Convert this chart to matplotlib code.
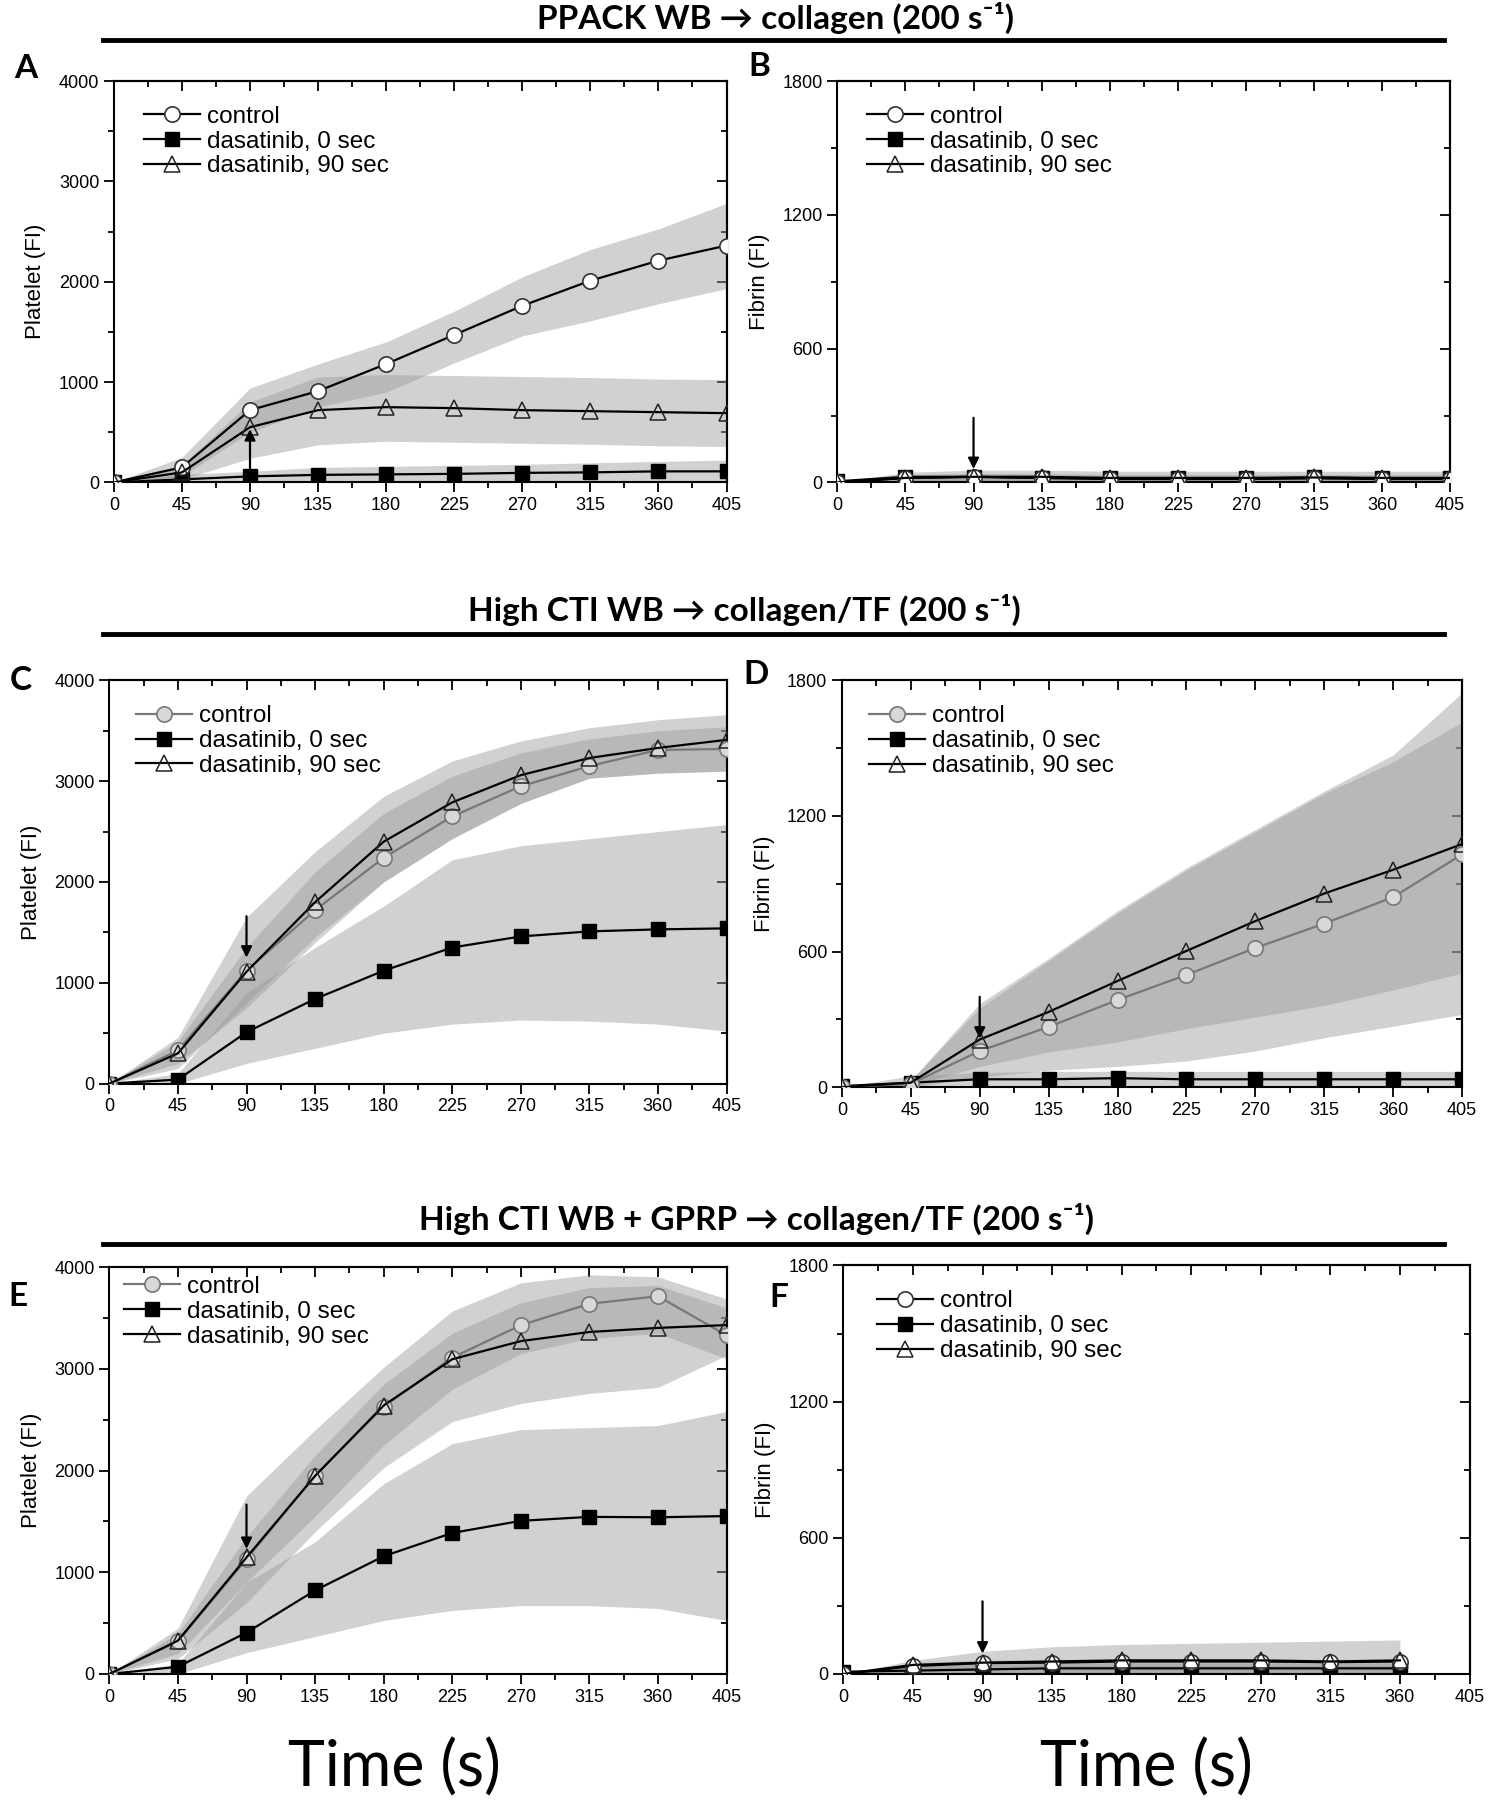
import numpy as np
import matplotlib.pyplot as plt
from matplotlib.ticker import MultipleLocator

plt.rcParams['font.family'] = ['Liberation Sans', 'DejaVu Sans']

# time points (s)
t = [0, 45, 90, 135, 180, 225, 270, 315, 360, 405]
t_f = t[:9]

# Panel A - platelet, PPACK WB
A_ctrl = [0, 150, 720, 910, 1180, 1470, 1760, 2010, 2210, 2360]
A_ctrl_hi = [0, 250, 940, 1180, 1400, 1706, 2048, 2321, 2526, 2780]
A_ctrl_lo = [0, 60, 500, 750, 900, 1190, 1460, 1610, 1780, 1930]
A_d0 = [0, 30, 60, 75, 80, 85, 95, 100, 110, 110]
A_d0_hi = [0, 80, 110, 150, 160, 170, 180, 195, 210, 222]
A_d0_lo = [0, 0, 0, 0, 0, 0, 0, 0, 0, 0]
A_d90 = [0, 100, 550, 720, 750, 740, 720, 710, 700, 690]
A_d90_hi = [0, 170, 800, 1050, 1075, 1065, 1055, 1045, 1030, 1024]
A_d90_lo = [0, 30, 240, 375, 410, 400, 390, 380, 365, 358]

# Panel B - fibrin, PPACK WB
B_ctrl = [0, 20, 25, 20, 15, 15, 15, 18, 15, 15]
B_ctrl_hi = [0, 45, 55, 55, 50, 50, 50, 50, 50, 50]
B_ctrl_lo = [0, 0, 0, 0, 0, 0, 0, 0, 0, 0]
B_d0 = [5, 25, 25, 20, 18, 18, 18, 22, 18, 18]
B_d0_hi = [0, 35, 40, 40, 35, 35, 35, 35, 35, 35]
B_d0_lo = [0, 0, 0, 0, 0, 0, 0, 0, 0, 0]
B_d90 = [0, 20, 25, 25, 20, 20, 20, 22, 20, 20]
B_d90_hi = [0, 30, 35, 35, 30, 30, 30, 30, 30, 30]
B_d90_lo = [0, 0, 0, 0, 0, 0, 0, 0, 0, 0]

# Panel C - platelet, high CTI WB
C_ctrl = [0, 330, 1120, 1720, 2240, 2650, 2950, 3150, 3310, 3320]
C_ctrl_hi = [0, 420, 1350, 2100, 2680, 3050, 3280, 3420, 3500, 3540]
C_ctrl_lo = [0, 200, 750, 1400, 2000, 2430, 2780, 3030, 3080, 3100]
C_d0 = [0, 40, 510, 840, 1120, 1350, 1460, 1510, 1530, 1540]
C_d0_hi = [0, 100, 900, 1350, 1760, 2220, 2360, 2430, 2500, 2570]
C_d0_lo = [0, 0, 200, 350, 500, 590, 630, 620, 590, 520]
C_d90 = [0, 300, 1110, 1800, 2400, 2790, 3060, 3230, 3330, 3410]
C_d90_hi = [0, 460, 1650, 2300, 2850, 3200, 3400, 3530, 3610, 3660]
C_d90_lo = [0, 150, 800, 1450, 2000, 2430, 2780, 3030, 3080, 3100]

# Panel D - fibrin, high CTI WB
D_ctrl = [0, 15, 160, 267, 386, 497, 616, 724, 841, 1030]
D_ctrl_hi = [0, 30, 370, 570, 780, 970, 1140, 1310, 1470, 1745]
D_ctrl_lo = [0, 0, 45, 75, 92, 116, 160, 219, 270, 322]
D_d0 = [5, 20, 35, 35, 40, 35, 35, 35, 35, 35]
D_d0_hi = [0, 50, 65, 70, 70, 70, 70, 70, 70, 70]
D_d0_lo = [0, 0, 0, 0, 0, 0, 0, 0, 0, 0]
D_d90 = [0, 20, 211, 333, 470, 603, 735, 857, 962, 1076]
D_d90_hi = [0, 30, 350, 560, 770, 960, 1130, 1300, 1440, 1615]
D_d90_lo = [0, 5, 92, 156, 200, 259, 310, 362, 430, 505]

# Panel E - platelet, high CTI WB + GPRP
E_ctrl = [0, 320, 1130, 1950, 2630, 3110, 3430, 3640, 3715, 3330]
E_ctrl_hi = [0, 400, 1350, 2150, 2850, 3350, 3650, 3800, 3820, 3600]
E_ctrl_lo = [0, 200, 900, 1550, 2250, 2800, 3150, 3300, 3350, 3100]
E_d0 = [0, 71, 407, 822, 1158, 1387, 1506, 1545, 1541, 1553]
E_d0_hi = [0, 100, 900, 1300, 1870, 2265, 2403, 2423, 2443, 2581]
E_d0_lo = [0, 0, 210, 368, 526, 625, 672, 672, 644, 526]
E_d90 = [0, 328, 1146, 1948, 2640, 3095, 3273, 3363, 3403, 3431]
E_d90_hi = [0, 450, 1750, 2400, 3016, 3569, 3846, 3925, 3905, 3688]
E_d90_lo = [0, 150, 700, 1400, 2028, 2482, 2660, 2759, 2818, 3134]

# Panel F - fibrin, high CTI WB + GPRP (data to 360 s)
F_ctrl = [0, 35, 48, 50, 55, 55, 55, 52, 55]
F_ctrl_hi = [0, 60, 100, 120, 130, 135, 140, 145, 150]
F_ctrl_lo = [0, 0, 0, 0, 0, 0, 0, 0, 0]
F_d0 = [10, 15, 20, 25, 25, 25, 25, 25, 25]
F_d0_hi = [0, 35, 45, 45, 45, 45, 45, 45, 45]
F_d0_lo = [0, 0, 0, 0, 0, 0, 0, 0, 0]
F_d90 = [0, 40, 50, 55, 60, 60, 60, 55, 60]
F_d90_hi = [0, 50, 60, 65, 65, 65, 65, 65, 65]
F_d90_lo = [0, 0, 0, 0, 0, 0, 0, 0, 0]

titles = ["PPACK WB \u2192 collagen (200 s\u207b\u00b9)",
          "High CTI WB \u2192 collagen/TF (200 s\u207b\u00b9)",
          "High CTI WB + GPRP \u2192 collagen/TF (200 s\u207b\u00b9)"]
legend_labels = ["control", "dasatinib, 0 sec", "dasatinib, 90 sec"]

fig = plt.figure(figsize=(14.98, 18), dpi=100)

band_col = '#9a9a9a'
band_alpha = 0.45


def panel(rect, x, ctrl, d0, d90, bands, ymax, ystep, yminor, ylabel,
          arrow, grey_ctrl, leg_anchor):
    ax = fig.add_axes(rect)
    for lo, hi in bands:
        ax.fill_between(x, lo, hi, color=band_col, alpha=band_alpha, lw=0)
    if grey_ctrl:
        lc, mfc, mec = '#777777', '#d8d8d8', '#777777'
    else:
        lc, mfc, mec = 'black', 'white', '#333333'
    ax.plot(x, d0, '-s', color='black', ms=10, mfc='black', mec='black',
            lw=1.6, label=legend_labels[1], zorder=3)
    ax.plot(x, ctrl, '-o', color=lc, ms=11, mfc=mfc, mec=mec, mew=1.2,
            lw=1.6, label=legend_labels[0], zorder=4)
    ax.plot(x, d90, '-^', color='black', ms=11, mfc='none', mec='#222222',
            mew=1.1, lw=1.6, label=legend_labels[2], zorder=5)
    tail, head = arrow
    ax.annotate('', xy=(90, head), xytext=(90, tail),
                arrowprops=dict(arrowstyle='-|>', color='black', lw=1.6,
                                mutation_scale=16, shrinkA=0, shrinkB=0),
                zorder=6)
    ax.set_xlim(0, 405)
    ax.set_ylim(0, ymax)
    ax.set_xticks(t)
    ax.xaxis.set_minor_locator(MultipleLocator(22.5))
    yt = np.arange(0, ymax + 1, ystep)
    ax.set_yticks(yt)
    ax.yaxis.set_minor_locator(MultipleLocator(yminor))
    ax.tick_params(which='both', direction='out', labelsize=13, width=1.3)
    ax.tick_params(which='major', length=7)
    ax.tick_params(which='minor', length=4)
    # mirrored ticks pointing inwards on top and right
    top = ax.secondary_xaxis('top')
    top.set_xticks(t)
    top.xaxis.set_minor_locator(MultipleLocator(22.5))
    top.tick_params(which='both', direction='in', labeltop=False, width=1.3)
    top.tick_params(which='major', length=7)
    top.tick_params(which='minor', length=4)
    right = ax.secondary_yaxis('right')
    right.set_yticks(yt)
    right.yaxis.set_minor_locator(MultipleLocator(yminor))
    right.tick_params(which='both', direction='in', labelright=False,
                      width=1.3)
    right.tick_params(which='major', length=7)
    right.tick_params(which='minor', length=4)
    for s in list(ax.spines.values()) + list(top.spines.values()) + \
            list(right.spines.values()):
        s.set_linewidth(1.5)
    ax.set_ylabel(ylabel, fontsize=16, labelpad=9)
    h, l = ax.get_legend_handles_labels()
    order = [1, 0, 2]
    ax.legend([h[i] for i in order], [l[i] for i in order], loc='upper left',
              bbox_to_anchor=leg_anchor, frameon=False, fontsize=17.5,
              handlelength=2.3, labelspacing=0.12, handletextpad=0.3,
              borderaxespad=0.2)
    return ax


axA = panel([0.076, 0.732, 0.409, 0.223], t, A_ctrl, A_d0, A_d90,
            [(A_ctrl_lo, A_ctrl_hi), (A_d0_lo, A_d0_hi), (A_d90_lo, A_d90_hi)],
            4000, 1000, 500, 'Platelet (FI)', (140, 530), False, (0.025, 0.975))
axB = panel([0.559, 0.732, 0.409, 0.223], t, B_ctrl, B_d0, B_d90,
            [(B_ctrl_lo, B_ctrl_hi), (B_d0_lo, B_d0_hi), (B_d90_lo, B_d90_hi)],
            1800, 600, 300, 'Fibrin (FI)', (290, 60), False, (0.025, 0.975))
axC = panel([0.073, 0.398, 0.412, 0.224], t, C_ctrl, C_d0, C_d90,
            [(C_ctrl_lo, C_ctrl_hi), (C_d0_lo, C_d0_hi), (C_d90_lo, C_d90_hi)],
            4000, 1000, 500, 'Platelet (FI)', (1660, 1250), True, (0.02, 0.975))
axD = panel([0.562, 0.396, 0.414, 0.226], t, D_ctrl, D_d0, D_d90,
            [(D_ctrl_lo, D_ctrl_hi), (D_d0_lo, D_d0_hi), (D_d90_lo, D_d90_hi)],
            1800, 600, 300, 'Fibrin (FI)', (400, 215), True, (0.02, 0.975))
axE = panel([0.073, 0.070, 0.412, 0.226], t, E_ctrl, E_d0, E_d90,
            [(E_ctrl_lo, E_ctrl_hi), (E_d0_lo, E_d0_hi), (E_d90_lo, E_d90_hi)],
            4000, 1000, 500, 'Platelet (FI)', (1666, 1230), True, (0.0, 1.015))
axF = panel([0.563, 0.070, 0.418, 0.227], t_f, F_ctrl, F_d0, F_d90,
            [(F_ctrl_lo, F_ctrl_hi), (F_d0_lo, F_d0_hi), (F_d90_lo, F_d90_hi)],
            1800, 600, 300, 'Fibrin (FI)', (320, 90), False, (0.03, 0.975))

# section titles with rules underneath
title_font = ['Lato', 'DejaVu Sans']
for (ty, ly, tx), txt in zip([(0.990, 0.978, 0.518), (0.661, 0.648, 0.497),
                              (0.323, 0.309, 0.505)], titles):
    fig.text(tx, ty, txt, ha='center', va='center', fontsize=24,
             fontweight='bold', family=title_font)
    fig.add_artist(plt.Line2D([0.069, 0.964], [ly, ly], color='black',
                              lw=3.5, transform=fig.transFigure))

# panel letters
for letter, lx, ly in [('A', 0.017, 0.962), ('B', 0.507, 0.963),
                       ('C', 0.014, 0.622), ('D', 0.505, 0.625),
                       ('E', 0.012, 0.280), ('F', 0.520, 0.279)]:
    fig.text(lx, ly, letter, ha='center', va='center', fontsize=24,
             fontweight='bold', family=title_font)

for xx in [0.263, 0.765]:
    fig.text(xx, 0.018, 'Time (s)', ha='center', va='center', fontsize=45,
             family=title_font)

fig.savefig('out.png', dpi=100)
